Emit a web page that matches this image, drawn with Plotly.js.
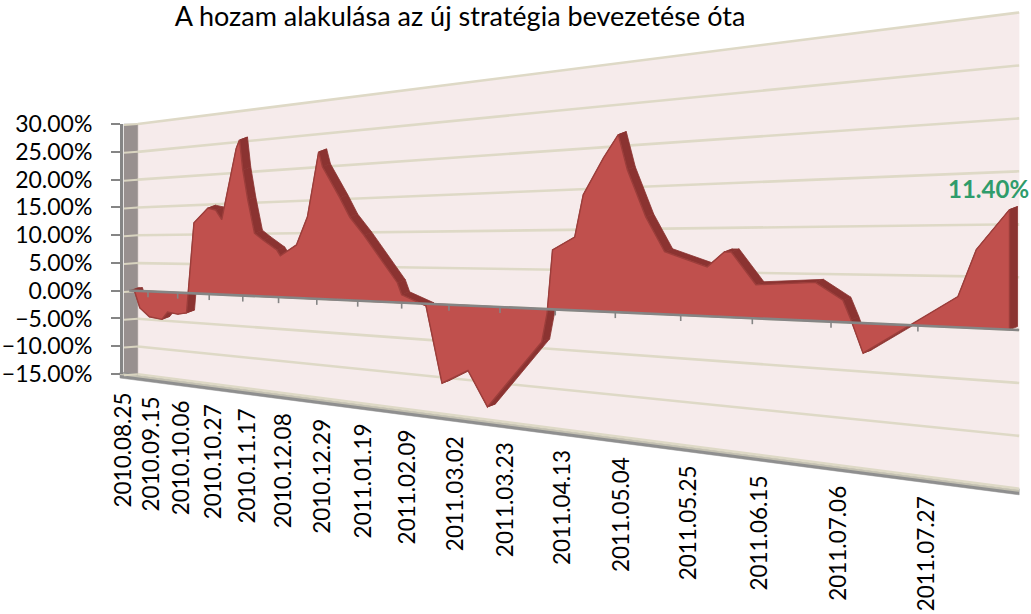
<!DOCTYPE html>
<html>
<head>
<meta charset="utf-8">
<script src="https://cdn.plot.ly/plotly-3.0.1.min.js"></script>
<style>html,body{margin:0;padding:0;background:#fff;overflow:hidden}#chart{width:1031px;height:614px}</style>
</head>
<body>
<div id="chart"></div>
<script>
const chartTitle = "A hozam alakulása az új stratégia bevezetése óta";
const startDate = "2010.08.25";
const endDate = "2011.08.18";
const tickLabels = ["2010.08.25","2010.09.15","2010.10.06","2010.10.27","2010.11.17","2010.12.08","2010.12.29","2011.01.19","2011.02.09","2011.03.02","2011.03.23","2011.04.13","2011.05.04","2011.05.25","2011.06.15","2011.07.06","2011.07.27"];
const gridValues = [-15,-10,-5,0,5,10,15,20,25,30];
const dates = ["2010.09.02","2010.09.05","2010.09.09","2010.09.16","2010.09.25","2010.09.29","2010.10.06","2010.10.12","2010.10.17","2010.10.26","2010.10.31","2010.11.04","2010.11.13","2010.11.15","2010.11.17","2010.11.20","2010.11.24","2010.11.29","2010.12.07","2010.12.09","2010.12.18","2010.12.24","2010.12.30","2011.01.01","2011.01.10","2011.01.15","2011.01.22","2011.02.07","2011.02.09","2011.02.20","2011.02.27","2011.03.10","2011.03.18","2011.04.08","2011.04.10","2011.04.12","2011.04.20","2011.04.23","2011.04.30","2011.05.05","2011.05.08","2011.05.14","2011.05.20","2011.06.02","2011.06.07","2011.06.09","2011.06.16","2011.07.02","2011.07.09","2011.07.11","2011.07.14","2011.07.26","2011.08.05","2011.08.09","2011.08.11","2011.08.16"];
const yields = [0,0,-3.05,-4.5,-4.8,-3.45,-3.7,-3.4,12.0,14.4,14.05,12.4,24.0,25.3,20.4,15.5,10.1,9.0,7.4,6.5,8.2,12.5,22.3,20.0,15.2,12.3,9.6,2.8,1.1,-0.3,-10.8,-8.7,-13.3,-4.2,-0.5,7.5,9.1,14.3,18.7,21.4,17.1,11.4,7.3,5.6,7.3,7.3,3.7,4.1,2.3,0.3,-3.1,0.2,3.0,7.6,8.7,11.4];

const FONT = "Lato, 'Liberation Sans', sans-serif";
const day0 = Date.UTC(2010,7,25);
function daysOf(s){const p=s.split('.').map(Number);return (Date.UTC(p[0],p[1]-1,p[2])-day0)/864e5;}
// perspective projection of (days since start, percent) onto the page
function P(days,v){
  const k=days/21, w=1-0.0284*k;
  return [(120+23.8*k)/w,(290.1-7.03*k-5.46*v)/w];
}
const wallLeft=0.64*21, wallRight=daysOf(endDate);
const depth=[8,-3];
function xs(a){return a.map(p=>p?p[0]:null);}
function ys(a){return a.map(p=>p?p[1]:null);}
function poly(pts,fill,line,lw){return {type:'scatter',mode:'lines',x:xs(pts).concat(pts[0][0]),y:ys(pts).concat(pts[0][1]),fill:'toself',fillcolor:fill,line:{color:line||fill,width:lw===undefined?0.5:lw},hoverinfo:'skip',showlegend:false};}
function lines(pts,color,w){return {type:'scatter',mode:'lines',x:xs(pts),y:ys(pts),line:{color:color,width:w},hoverinfo:'skip',connectgaps:false,showlegend:false};}

const d=dates.map(daysOf);
const curve=d.map((t,i)=>P(t,yields[i]));
const base0=P(d[0],0), baseN=P(d[d.length-1],0);

const traces=[];
// back wall
traces.push(poly([P(wallLeft,30),P(wallRight,30),P(wallRight,-15),P(wallLeft,-15)],'#f6ebeb'));
// side wall
const sl=P(wallLeft,30), sb=P(wallLeft,-15);
traces.push(poly([[124,sl[1]],sl,sb,[124,sb[1]+2]],'#98908f'));
// floor
const floorT=[0,wallRight];
const floorUp=floorT.map(t=>P(t,-15));
const floorLow=floorT.slice().reverse().map(t=>{const a=P(t,-15);return [a[0],a[1]+6];});
traces.push(poly(floorUp.concat(floorLow),'#8f8f8f'));
traces.push(lines(floorUp.map(a=>[a[0],a[1]+2]),'#c4c1b2',2));
// gridlines
const grid=[], side=[];
gridValues.forEach(v=>{grid.push(P(wallLeft,v),P(wallRight,v),null);const a=P(wallLeft,v);side.push([124,a[1]+1],a,null);});
traces.push(lines(side,'#d9d4c0',2));
traces.push(lines(grid,'#ded9c6',2.6));
// depth band of the area
function off(p){return [p[0]+depth[0],p[1]+depth[1]];}
for(let i=0;i<curve.length-1;i++){
  const a=curve[i],b=curve[i+1];
  traces.push(poly([a,b,off(b),off(a)],'#8b3331','#8b3331',0.8));
}
const last=curve[curve.length-1];
traces.push(poly([last,baseN,off(baseN),off(last)],'#8b3331','#8b3331',0.8));
// front face of the area
traces.push(poly([base0].concat(curve,[baseN]),'#c0504d','#9c3e3b',1.4));
// category axis line and ticks
const baseLine=[P(7,0),P(wallRight,0)];
traces.push(lines(baseLine,'#858585',2.6));
const ticks=[];
tickLabels.slice(1).forEach(s=>{const a=P(daysOf(s),0);ticks.push(a,[a[0],a[1]+6],null);});
traces.push(lines(ticks,'#858585',1.6));
// value axis carrying the real values
traces.push({type:'scatter',mode:'lines',xaxis:'x',yaxis:'y2',x:curve.map(p=>p[0]),y:yields,line:{color:'rgba(0,0,0,0)',width:0},hoverinfo:'skip',showlegend:false});

const annotations=tickLabels.map((s,i)=>{
  const t=daysOf(s),f=P(t,-15);
  return {xref:'x',yref:'y',x:f[0],y:f[1]+20,xshift:2+i*0.33,text:s,textangle:-90,showarrow:false,xanchor:'center',yanchor:'top',font:{family:FONT,size:22.5,color:'#000'},borderpad:0};
});
annotations.push({xref:'x',yref:'y',x:988,y:188,text:'<b>11.40%</b>',showarrow:false,xanchor:'center',yanchor:'middle',font:{family:FONT,size:24,color:'#2f9c6b'}});

const layout={
  width:1031,height:614,margin:{l:0,r:0,t:0,b:0},paper_bgcolor:'#fff',plot_bgcolor:'rgba(0,0,0,0)',showlegend:false,
  title:{text:chartTitle,font:{family:FONT,size:27,color:'#000'},x:460/1031,xanchor:'center',xref:'paper',y:1-17/614,yref:'paper',yanchor:'middle'},
  xaxis:{range:[0,1031],visible:false,fixedrange:true},
  yaxis:{range:[614,0],visible:false,fixedrange:true,domain:[0,1]},
  yaxis2:{range:[-15,30],dtick:5,tick0:0,tickformat:'.2f',ticksuffix:'%',domain:[(614-374)/614,(614-124)/614],anchor:'free',position:121/1031,side:'left',
    showgrid:false,zeroline:false,showline:true,linecolor:'#858585',linewidth:3,ticks:'outside',ticklen:9,tickwidth:2,tickcolor:'#858585',ticklabelstandoff:14,
    tickfont:{family:FONT,size:23,color:'#000'},fixedrange:true},
  annotations:annotations
};
Plotly.newPlot('chart',traces,layout,{displayModeBar:false,staticPlot:true});
</script>
</body>
</html>
